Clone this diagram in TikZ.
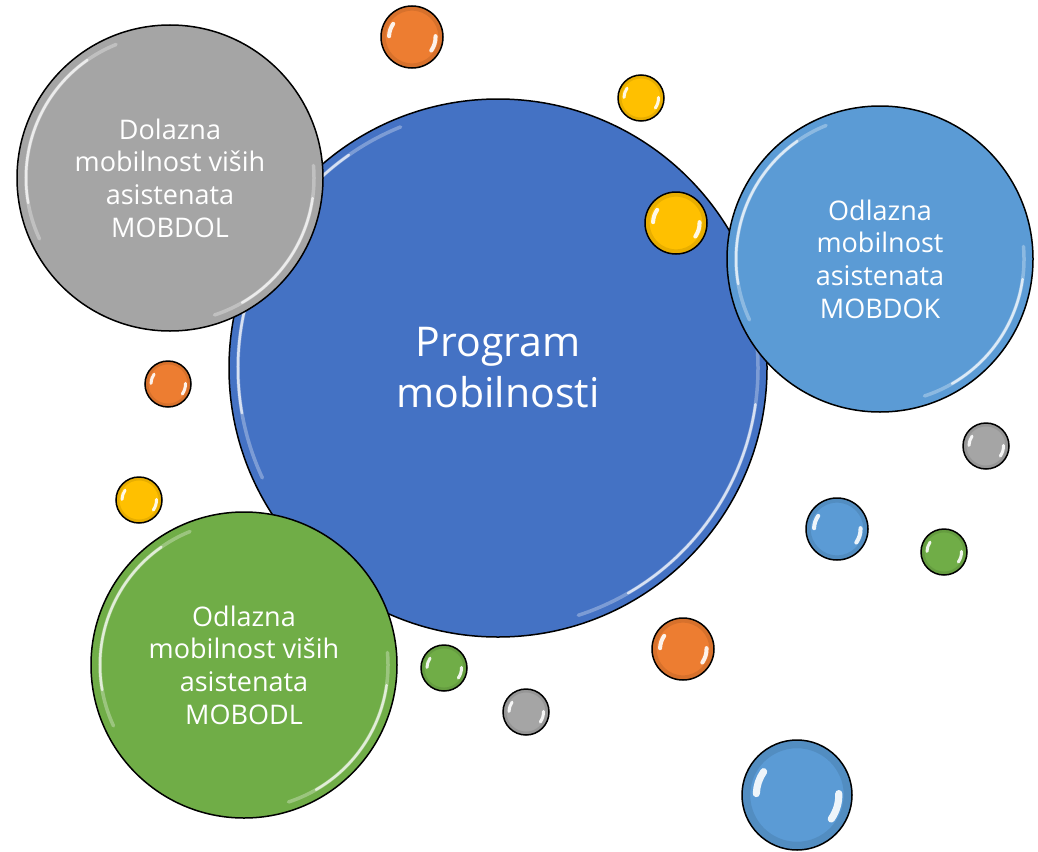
\documentclass[tikz,border=0pt]{standalone}
\usepackage{fontspec}
\setmainfont{Open Sans}

\definecolor{progblue}{HTML}{4472C4}
\definecolor{dolgray}{HTML}{A5A5A5}
\definecolor{dokblue}{HTML}{5B9BD5}
\definecolor{odlgreen}{HTML}{70AD47}
\definecolor{dotorange}{HTML}{ED7D31}
\definecolor{dotyellow}{HTML}{FFC000}

% rim highlight of a big bubble: node, radius
\newcommand{\rimshine}[2]{%
  \draw[shine,opacity=0.3,line width=3.5] (#1.center) +(112:{#2-9}) arc[start angle=112,end angle=205,radius={#2-9}];
  \draw[shine,opacity=0.7,line width=2.5] (#1.center) +(125:{#2-9}) arc[start angle=125,end angle=190,radius={#2-9}];
  \draw[shine,opacity=0.3,line width=3.5] (#1.center) +(5:{#2-9}) arc[start angle=5,end angle=-72,radius={#2-9}];
  \draw[shine,opacity=0.7,line width=2.5] (#1.center) +(-8:{#2-9}) arc[start angle=-8,end angle=-60,radius={#2-9}];
}
% glints of a small bubble: node, radius
\newcommand{\dotshine}[2]{%
  \draw[black,opacity=0.09,line width={0.14*#2}] (#1.center) circle[radius={0.92*#2}];
  \draw[shine,opacity=0.9,line width={0.13*#2}] (#1.center) +(145:{0.74*#2}) arc[start angle=145,end angle=178,radius={0.74*#2}];
  \draw[shine,opacity=0.9,line width={0.13*#2}] (#1.center) +(2:{0.76*#2}) arc[start angle=2,end angle=-35,radius={0.76*#2}];
}

\begin{document}
\begin{tikzpicture}[x=1pt,y=1pt,
  bubble/.style={circle,draw=black,line width=1.5,inner sep=0pt,outer sep=0pt,
    text=white,align=center,font=\fontsize{27}{32.6}\selectfont},
  dot/.style={circle,draw=black,line width=1.5,inner sep=0pt,outer sep=0pt},
  shine/.style={white,line cap=round}]
  \useasboundingbox (0,0) rectangle (1038,-851);

  % main bubble
  \node[bubble,fill=progblue,minimum size=538,font=\fontsize{41}{51}\selectfont] (prog) at (498,-368) {Program\\mobilnosti};
  \rimshine{prog}{269}

  % the three programmes
  \node[bubble,fill=dolgray,minimum size=306]  (mobdol) at (170,-178) {Dolazna\\mobilnost viših\\asistenata\\MOBDOL};
  \rimshine{mobdol}{153}
  \node[bubble,fill=dokblue,minimum size=306]  (mobdok) at (880,-259) {Odlazna\\mobilnost\\asistenata\\MOBDOK};
  \rimshine{mobdok}{153}
  \node[bubble,fill=odlgreen,minimum size=306] (mobodl) at (244,-665) {Odlazna\\mobilnost viših\\asistenata\\MOBODL};
  \rimshine{mobodl}{153}

  % small bubbles
  \node[dot,fill=dotorange,minimum size=62]  (or1) at (412,-37)  {}; \dotshine{or1}{31}
  \node[dot,fill=dotyellow,minimum size=46]  (ye1) at (641,-98)  {}; \dotshine{ye1}{23}
  \node[dot,fill=dotyellow,minimum size=62]  (ye2) at (676,-223) {}; \dotshine{ye2}{31}
  \node[dot,fill=dotorange,minimum size=46]  (or2) at (168,-384) {}; \dotshine{or2}{23}
  \node[dot,fill=dotyellow,minimum size=46]  (ye3) at (139,-500) {}; \dotshine{ye3}{23}
  \node[dot,fill=dolgray,minimum size=46]    (gr1) at (986,-446) {}; \dotshine{gr1}{23}
  \node[dot,fill=dokblue,minimum size=62]    (bl1) at (837,-529) {}; \dotshine{bl1}{31}
  \node[dot,fill=odlgreen,minimum size=46]   (gn1) at (944,-552) {}; \dotshine{gn1}{23}
  \node[dot,fill=dotorange,minimum size=62]  (or3) at (683,-649) {}; \dotshine{or3}{31}
  \node[dot,fill=odlgreen,minimum size=46]   (gn2) at (444,-668) {}; \dotshine{gn2}{23}
  \node[dot,fill=dolgray,minimum size=46]    (gr2) at (526,-712) {}; \dotshine{gr2}{23}
  \node[dot,fill=dokblue,minimum size=110]   (bl2) at (797,-795) {}; \dotshine{bl2}{55}
\end{tikzpicture}
\end{document}
